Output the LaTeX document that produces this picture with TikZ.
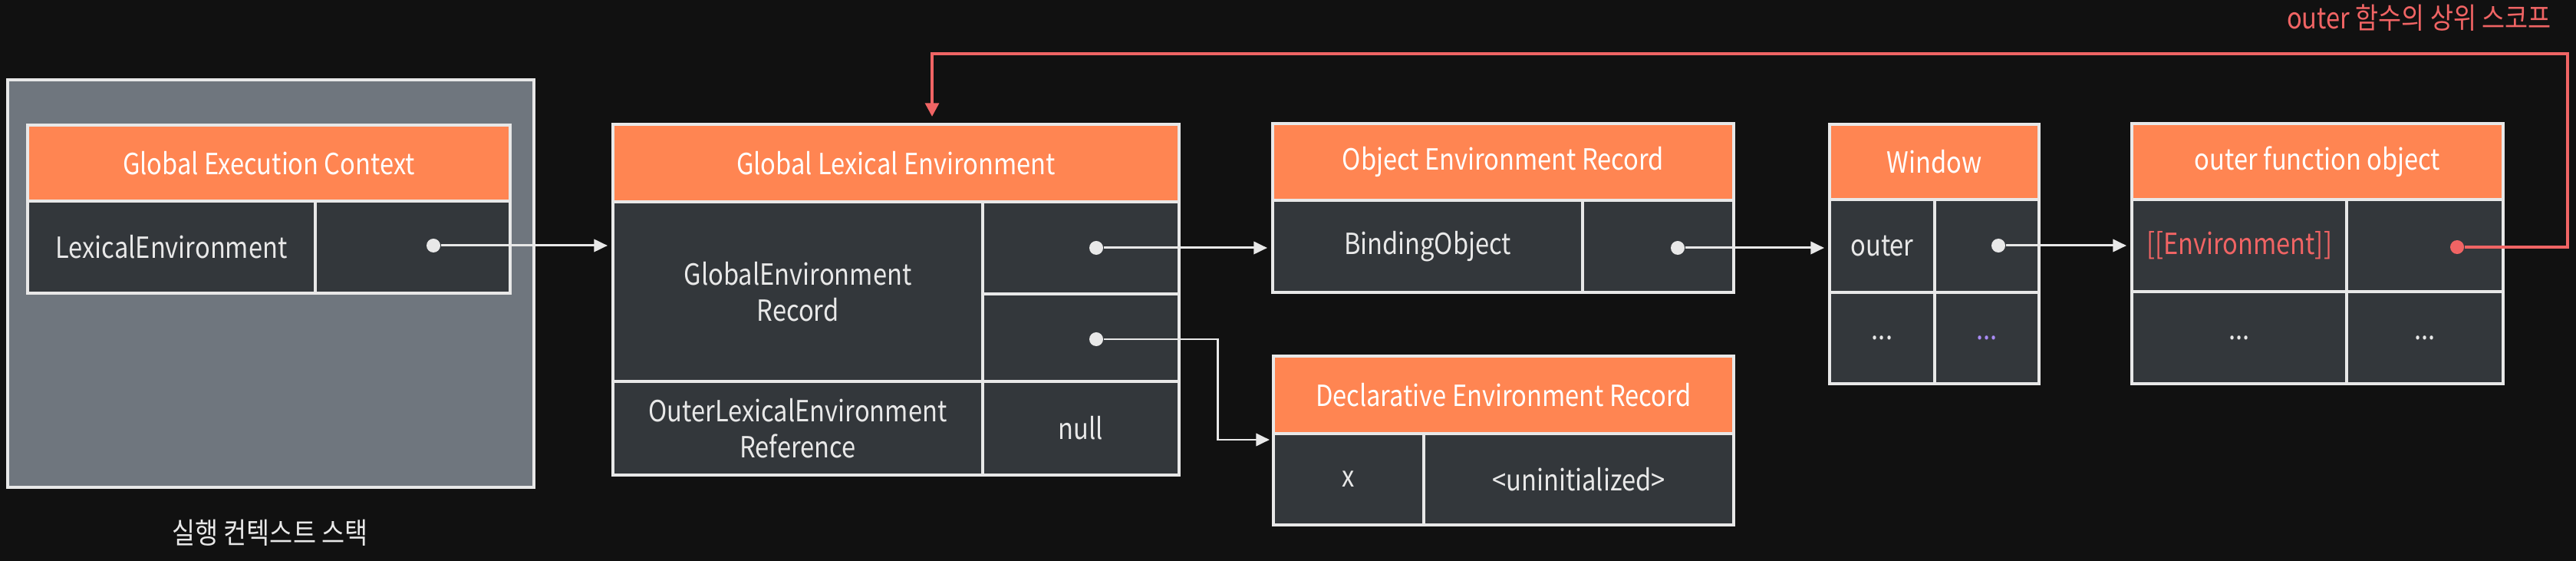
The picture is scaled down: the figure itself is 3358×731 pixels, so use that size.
\documentclass[tikz,border=0pt]{standalone}
\usepackage{fontspec}
\setmainfont{Noto Sans CJK KR}[FakeStretch=0.86]
\usetikzlibrary{arrows.meta}

\definecolor{bgc}{HTML}{111111}
\definecolor{stackc}{HTML}{6F767E}
\definecolor{hdrc}{HTML}{FF8552}
\definecolor{cellc}{HTML}{33373B}
\definecolor{edgec}{HTML}{E8E8E8}
\definecolor{scopec}{HTML}{F06464}
\definecolor{dimc}{HTML}{A98BF5}

\begin{document}
\begin{tikzpicture}[
  x=0.01cm, y=-0.01cm,
  every node/.style={font=\fontsize{10.8}{13.5}\selectfont, text=edgec},
  area/.style n args={4}{at={(0.5*#1+0.5*#3, 0.5*#2+0.5*#4)},
    minimum width={(#3-#1)*0.01cm}, minimum height={(#4-#2)*0.01cm}},
  box/.style={draw=edgec, line width=1.15pt, inner sep=0pt},
  hdr/.style={box, fill=hdrc, text=white},
  cell/.style={box, fill=cellc},
  dot/.style={circle, fill=#1, draw=none, inner sep=0pt, minimum size=0.18cm},
  dot/.default=edgec,
  link/.style={draw=edgec, line width=0.85pt, shorten >=0.05cm,
    -{Triangle[length=5pt, width=4.6pt]}},
  scopelink/.style={draw=scopec, line width=1.1pt, shorten >=0.08cm,
    -{Triangle[length=5pt, width=5pt]}}
]
\useasboundingbox[fill=bgc] (0,0) rectangle (3358,731);

% =======================
% Execution context stack
% =======================
\node[box, fill=stackc, area={10}{104}{696}{635}] (stack) {};
\node (stacklbl) at (352,694) {실행 컨텍스트 스택};

\node[hdr, area={36}{163}{665}{262}] (gec) {Global Execution Context};
\node[cell, area={36}{262}{411}{382}] (lexenv) {LexicalEnvironment};
\node[cell, area={411}{262}{665}{382}] (lexptr) {};

% =======================
% Global lexical environment
% =======================
\node[hdr, area={799}{162}{1537}{263}] (gle) {Global Lexical Environment};
\node[cell, align=center, area={799}{263}{1281}{497}] (ger) {GlobalEnvironment\\Record};
\node[cell, area={1281}{263}{1537}{383}] (objptr) {};
\node[cell, area={1281}{383}{1537}{497}] (declptr) {};
\node[cell, align=center, area={799}{497}{1281}{619}] (outerref) {OuterLexicalEnvironment\\Reference};
\node[cell, area={1281}{497}{1537}{619}] (outernull) {null};

% =======================
% Environment records
% =======================
\node[hdr, area={1659}{161}{2260}{261}] (oer) {Object Environment Record};
\node[cell, area={1659}{261}{2063}{381}] (bindobj) {BindingObject};
\node[cell, area={2063}{261}{2260}{381}] (bindptr) {};

\node[hdr, area={1660}{464}{2260}{565}] (der) {Declarative Environment Record};
\node[cell, area={1660}{565}{1856}{684}] (derx) {x};
\node[cell, area={1856}{565}{2260}{684}] (derval) {<uninitialized>};

% =======================
% Window and outer function object
% =======================
\node[hdr, area={2385}{162}{2658}{260}] (win) {Window};
\node[cell, area={2385}{260}{2522}{381}] (winkey) {outer};
\node[cell, area={2522}{260}{2658}{381}] (winptr) {};
\node[cell, area={2385}{381}{2522}{500}] (winkey2) {...};
\node[cell, area={2522}{381}{2658}{500}, text=dimc] (winval2) {...};

\node[hdr, area={2779}{161}{3263}{260}] (ofo) {outer function object};
\node[cell, area={2779}{260}{3059}{380}, text=scopec] (envslot) {[[Environment]]};
\node[cell, area={3059}{260}{3263}{380}] (envptr) {};
\node[cell, area={2779}{380}{3059}{500}] (ofokey2) {...};
\node[cell, area={3059}{380}{3263}{500}] (ofoval2) {...};

% Pointer dots
\node[dot] (lexdot) at (565,320) {};
\node[dot] (objdot) at (1429,323) {};
\node[dot] (decldot) at (1429,442) {};
\node[dot] (binddot) at (2187,323) {};
\node[dot] (windot) at (2605,320) {};
\node[dot=scopec] (envdot) at (3203,322) {};

\coordinate (bend) at (1587,442);
\coordinate (derin) at (1660,573);
\coordinate (scopecorner) at (3347,70);
\coordinate (scopetop) at (1215,70);

% Links
\draw[link] (lexdot) -- (ger.west |- lexdot);
\draw[link] (objdot) -- (bindobj.west |- objdot);
\draw[link] (decldot) -- (bend) |- (derin);
\draw[link] (binddot) -- (winkey.west |- binddot);
\draw[link] (windot) -- (envslot.west |- windot);

% Scope chain of outer
\draw[scopelink] (envdot) -| (scopecorner) -- (scopetop) -- (scopetop |- gle.north);
\node[text=scopec, anchor=east] (scopelbl) at (3338,23) {outer 함수의 상위 스코프};

\end{tikzpicture}
\end{document}
